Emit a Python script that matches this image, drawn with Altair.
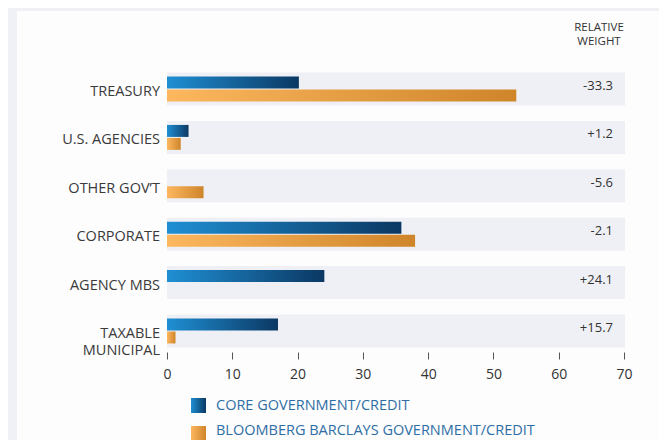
import altair as alt
import pandas as pd

categories = ["TREASURY", "U.S. AGENCIES", "OTHER GOV’T", "CORPORATE", "AGENCY MBS", "TAXABLE|MUNICIPAL"]
series = ["CORE GOVERNMENT/CREDIT", "BLOOMBERG BARCLAYS GOVERNMENT/CREDIT"]
core_values = [20.2, 3.3, 0.0, 35.9, 24.1, 17.0]
bench_values = [53.5, 2.1, 5.6, 38.0, 0.0, 1.3]
relative_weight = ["-33.3", "+1.2", "-5.6", "-2.1", "+24.1", "+15.7"]
header_lines = ["RELATIVE", "WEIGHT"]
x_ticks = [0, 10, 20, 30, 40, 50, 60, 70]

FONT = "Open Sans"
W, H = 457, 284

cat_df = pd.DataFrame({"cat": categories, "rel": relative_weight})
long_df = pd.DataFrame(
    [{"cat": c, "series": series[0], "value": v} for c, v in zip(categories, core_values)]
    + [{"cat": c, "series": series[1], "value": v} for c, v in zip(categories, bench_values)]
)
legend_df = pd.DataFrame({"series": series})
header_df = pd.DataFrame({"t": header_lines})

blue_grad = alt.Gradient(gradient="linear", x1=0, y1=0, x2=1, y2=0,
                         stops=[alt.GradientStop(offset=0, color="#1f8fd3"),
                                alt.GradientStop(offset=1, color="#0b3863")])
orange_grad = alt.Gradient(gradient="linear", x1=0, y1=0, x2=1, y2=0,
                           stops=[alt.GradientStop(offset=0, color="#fcb75f"),
                                  alt.GradientStop(offset=1, color="#cf852a")])

yscale = alt.Scale(domain=categories, paddingInner=0.318, paddingOuter=0.093)
ycat = alt.Y("cat:N", sort=categories, scale=yscale, axis=None)
yoff = alt.YOffset("series:N", scale=alt.Scale(domain=series, paddingInner=0.077, paddingOuter=0.31))
xq = alt.X("value:Q", scale=alt.Scale(domain=[0, 70], nice=False),
           axis=alt.Axis(values=x_ticks, domain=False, grid=False, ticks=True, tickSize=7,
                         tickColor="#555555", tickWidth=1, labelFont=FONT, labelFontSize=14,
                         labelColor="#333333", labelPadding=8, labelFlush=False,
                         title=None, zindex=2))

panel = alt.Chart(alt.Data(values=[{"a": 1}])).mark_rect(color="#fdfdfd").encode(
    x=alt.value(-150), x2=alt.value(520), y=alt.value(-57), y2=alt.value(420))

bands = alt.Chart(cat_df).mark_rect(color="#eff0f6").encode(
    y=ycat, x=alt.value(0), x2=alt.value(458))

bars_core = alt.Chart(long_df).transform_filter(
    (alt.datum.series == series[0]) & (alt.datum.value > 0)
).mark_bar(color=blue_grad).encode(y=ycat, yOffset=yoff, x=xq)

bars_bench = alt.Chart(long_df).transform_filter(
    (alt.datum.series == series[1]) & (alt.datum.value > 0)
).mark_bar(color=orange_grad).encode(y=ycat, yOffset=yoff, x=xq)

cat_labels = alt.Chart(cat_df).mark_text(
    align="right", baseline="middle", font=FONT, fontSize=14.5, color="#3a3a3a",
    lineBreak="|", lineHeight=17.5, dy=3
).encode(y=ycat, x=alt.value(-7), text="cat:N")

rel_labels = alt.Chart(cat_df).mark_text(
    align="right", baseline="middle", font=FONT, fontSize=13, color="#333333", dy=-3
).encode(y=ycat, x=alt.value(446), text="rel:N")

header1 = alt.Chart(header_df).transform_filter(alt.datum.t == header_lines[0]).mark_text(
    align="center", baseline="middle", font=FONT, fontSize=11.5, color="#333333"
).encode(x=alt.value(432), y=alt.value(-40.5), text="t:N")
header2 = alt.Chart(header_df).transform_filter(alt.datum.t == header_lines[1]).mark_text(
    align="center", baseline="middle", font=FONT, fontSize=11.5, color="#333333"
).encode(x=alt.value(432), y=alt.value(-26.5), text="t:N")

leg_sq1 = alt.Chart(legend_df).transform_filter(alt.datum.series == series[0]).mark_rect(
    color=blue_grad).encode(x=alt.value(24), x2=alt.value(39), y=alt.value(330), y2=alt.value(345))
leg_sq2 = alt.Chart(legend_df).transform_filter(alt.datum.series == series[1]).mark_rect(
    color=orange_grad).encode(x=alt.value(24), x2=alt.value(39), y=alt.value(358), y2=alt.value(373))
leg_t1 = alt.Chart(legend_df).transform_filter(alt.datum.series == series[0]).mark_text(
    align="left", baseline="middle", font=FONT, fontSize=14.5, color="#2f6ea5").encode(
    x=alt.value(49), y=alt.value(338), text="series:N")
leg_t2 = alt.Chart(legend_df).transform_filter(alt.datum.series == series[1]).mark_text(
    align="left", baseline="middle", font=FONT, fontSize=14.5, color="#2f6ea5").encode(
    x=alt.value(49), y=alt.value(362.5), text="series:N")

chart = alt.layer(
    panel, bands, bars_core, bars_bench, cat_labels, rel_labels, header1, header2,
    leg_sq1, leg_sq2, leg_t1, leg_t2
).properties(
    width=W, height=H,
    padding={"left": 159, "top": 60, "right": 35, "bottom": 88},
    autosize=alt.AutoSizeParams(type="none"),
    background="#f0f1f6",
).configure_view(stroke=None)

chart.save("out.html", embed_options={"renderer": "svg", "actions": False})
